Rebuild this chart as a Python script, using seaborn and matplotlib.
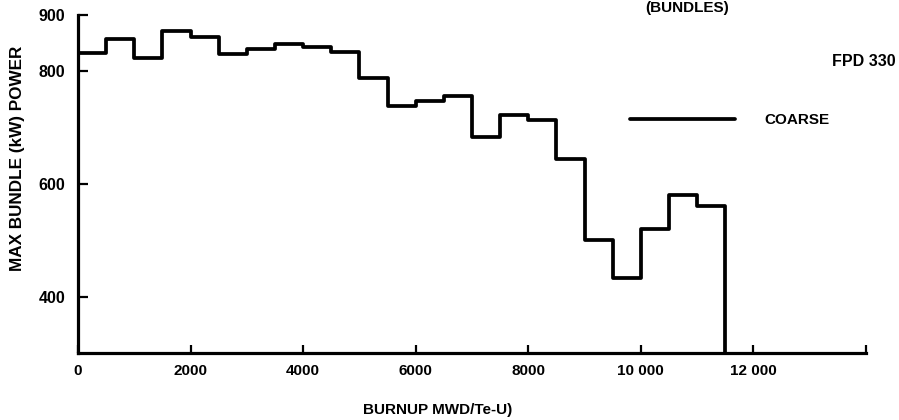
import matplotlib
matplotlib.use("Agg")
import matplotlib.pyplot as plt
import seaborn as sns
import pandas as pd

# ---- data ----
bin_start = [0, 500, 1000, 1500, 2000, 2500, 3000, 3500, 4000, 4500,
             5000, 5500, 6000, 6500, 7000, 7500, 8000, 8500, 9000, 9500,
             10000, 10500, 11000]
max_power = [833, 857, 823, 871, 861, 830, 839, 849, 843, 834,
             789, 739, 748, 757, 684, 723, 714, 645, 501, 434,
             520, 581, 561]
end_burnup = 11500
end_power = 300          # trace drops to the axis floor
x_ticks = [0, 2000, 4000, 6000, 8000, 10000, 12000, 14000]
x_tick_labels = ["0", "2000", "4000", "6000", "8000", "10 000", "12 000", ""]
y_ticks = [400, 600, 800, 900]
series_name = "COARSE"

df = pd.DataFrame({
    "burnup": bin_start + [end_burnup],
    "power": max_power + [end_power],
    "series": series_name,
})

sns.set_theme(style="white")
plt.rcParams["font.family"] = ["Liberation Sans", "DejaVu Sans"]
plt.rcParams["font.weight"] = "bold"
plt.rcParams["text.color"] = "black"
plt.rcParams["axes.labelcolor"] = "black"
plt.rcParams["xtick.color"] = "black"
plt.rcParams["ytick.color"] = "black"

fig = plt.figure(figsize=(8.99, 4.20), dpi=100)
ax = fig.add_axes([78 / 899, 1 - 353 / 420, (866 - 78) / 899, (353 - 15) / 420])

sns.lineplot(data=df, x="burnup", y="power", hue="series", palette=["black"],
             estimator=None, sort=False, drawstyle="steps-post",
             linewidth=2.7, ax=ax, legend=True)

ax.set_xlim(0, 14000)
ax.set_ylim(300, 900)
ax.set_xticks(x_ticks)
ax.set_xticklabels(x_tick_labels)
ax.set_yticks(y_ticks)

for s in ["top", "right"]:
    ax.spines[s].set_visible(False)
for s in ["left", "bottom"]:
    ax.spines[s].set_color("black")
    ax.spines[s].set_linewidth(2.3)

ax.tick_params(axis="y", direction="in", length=7, width=1.6, pad=9,
               labelsize=11.5, labelcolor="black", color="black", left=True)
ax.tick_params(axis="x", direction="in", length=6, width=1.6, pad=8,
               labelsize=11, labelcolor="black", color="black", bottom=True)
for lab in ax.get_xticklabels() + ax.get_yticklabels():
    lab.set_fontweight("bold")

ax.set_xlabel("")
ax.set_ylabel("")
fig.text(18 / 899, 1 - 158 / 420, "MAX BUNDLE (kW) POWER", rotation=90,
         ha="center", va="center", fontsize=12.3, fontweight="bold",
         color="black")
fig.text(438 / 899, 1 - 410 / 420, "BURNUP MWD/Te-U)", ha="center",
         va="center", fontsize=11, fontweight="bold", color="black")
fig.text(687 / 899, 1 - 1 / 420, "(BUNDLES)", ha="center", va="top",
         fontsize=11, fontweight="bold", color="black")
fig.text(864 / 899, 1 - 61 / 420, "FPD 330", ha="center", va="center",
         fontsize=11.5, fontweight="bold", color="black")

leg = ax.legend(loc="center left", bbox_to_anchor=(630 / 899, 1 - 120 / 420),
                bbox_transform=fig.transFigure, frameon=False,
                handlelength=6.9, handletextpad=1.9, fontsize=11,
                borderaxespad=0, borderpad=0)
for t in leg.get_texts():
    t.set_fontweight("bold")
    t.set_color("black")

fig.savefig("out.png", dpi=100, facecolor="white")
